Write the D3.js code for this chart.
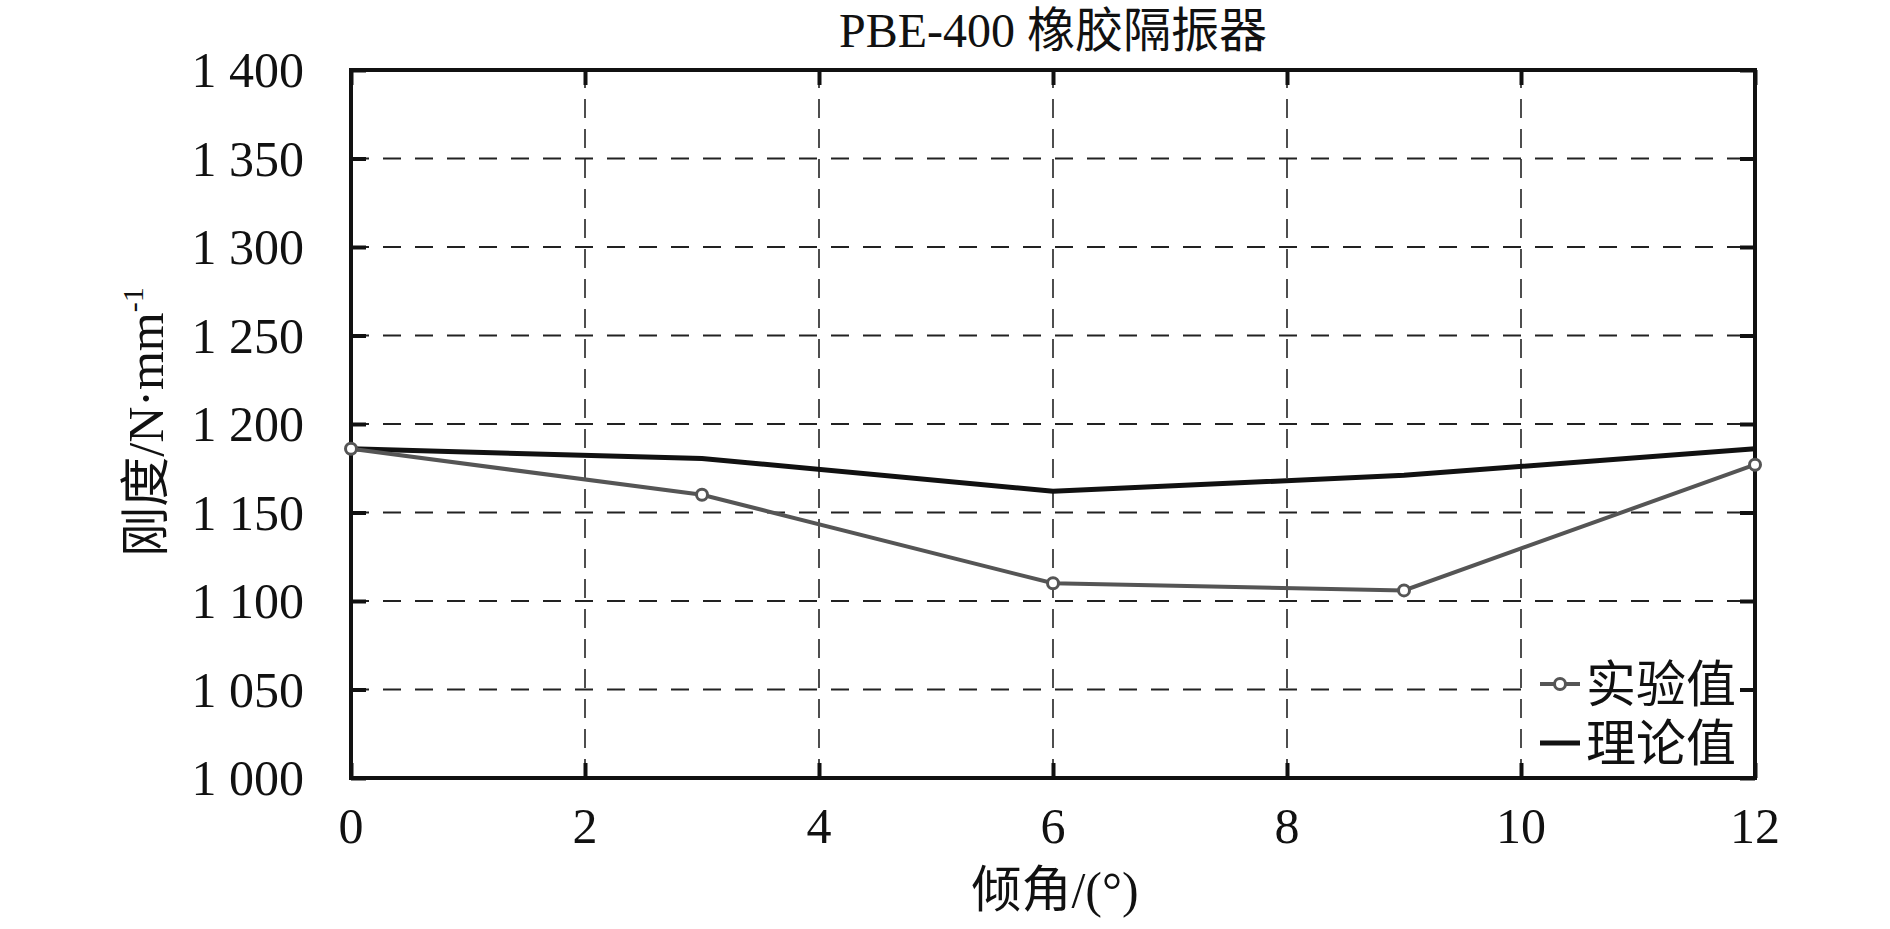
<!DOCTYPE html>
<html lang="zh">
	<head>
		<meta charset="utf-8">
		<title>PBE-400 橡胶隔振器</title>
		<script type="text/javascript" src="https://cdn.jsdelivr.net/npm/d3@7"></script>
		<style type="text/css">
			body { margin: 0; background: #fff; }
			text { font-family: "Liberation Serif", "Noto Sans CJK SC", serif; fill: #111; }
		</style>
	</head>
	<body>
		<script type="text/javascript">

			//Width and height
			var w = 1890;
			var h = 929;
			var margin = {left: 351, right: 135, top: 70, bottom: 151};

			//data
			var angles = [0, 3, 6, 9, 12];
			var experimental = [1186, 1160, 1110, 1106, 1177];
			var theoretical = [1186, 1180.5, 1162, 1171, 1186];
			var xTicks = [0, 2, 4, 6, 8, 10, 12];
			var yTicks = [1000, 1050, 1100, 1150, 1200, 1250, 1300, 1350, 1400];
			var seriesNames = ["实验值", "理论值"];

			var svg = d3.select("body")
						.append("svg")
						.attr("width", w)
						.attr("height", h);

			var x = d3.scaleLinear().domain([0, 12]).range([margin.left, w - margin.right]);
			var y = d3.scaleLinear().domain([1000, 1400]).range([h - margin.bottom, margin.top]);

			//space grouping: "1 400"
			var fmt = d3.formatLocale({decimal: ".", thousands: " ", grouping: [3], currency: ["", ""]}).format(",");

			//grid lines
			svg.append("g").selectAll("line")
				.data(yTicks.slice(1, -1))
				.enter().append("line")
				.attr("x1", x(0)).attr("x2", x(12))
				.attr("y1", function(d) { return y(d); })
				.attr("y2", function(d) { return y(d); })
				.attr("stroke", "#222").attr("stroke-width", 2.2)
				.attr("stroke-dasharray", "18,14");

			svg.append("g").selectAll("line")
				.data(xTicks.slice(1, -1))
				.enter().append("line")
				.attr("y1", y(1000)).attr("y2", y(1400))
				.attr("x1", function(d) { return x(d); })
				.attr("x2", function(d) { return x(d); })
				.attr("stroke", "#222").attr("stroke-width", 1.6)
				.attr("stroke-dasharray", "19,11");

			//legend background hides the grid under it
			svg.append("rect")
				.attr("x", 1530).attr("y", 655)
				.attr("width", x(12) - 1530).attr("height", y(1000) - 655)
				.attr("fill", "#fff");

			//inside tick stubs via axes
			var tickLen = 15;
			svg.append("g").attr("transform", "translate(" + x(0) + ",0)")
				.call(d3.axisRight(y).tickValues(yTicks).tickSize(tickLen).tickFormat(""));
			svg.append("g").attr("transform", "translate(" + x(12) + ",0)")
				.call(d3.axisLeft(y).tickValues(yTicks).tickSize(tickLen).tickFormat(""));
			svg.append("g").attr("transform", "translate(0," + y(1000) + ")")
				.call(d3.axisTop(x).tickValues(xTicks).tickSize(tickLen).tickFormat(""));
			svg.append("g").attr("transform", "translate(0," + y(1400) + ")")
				.call(d3.axisBottom(x).tickValues(xTicks).tickSize(tickLen).tickFormat(""));
			svg.selectAll(".domain").remove();
			svg.selectAll(".tick line").attr("stroke", "#111").attr("stroke-width", 4);

			//frame
			svg.append("rect")
				.attr("x", x(0)).attr("y", y(1400))
				.attr("width", x(12) - x(0)).attr("height", y(1000) - y(1400))
				.attr("fill", "none").attr("stroke", "#111").attr("stroke-width", 4);

			//tick labels
			svg.append("g").selectAll("text")
				.data(yTicks)
				.enter().append("text")
				.text(function(d) { return fmt(d); })
				.attr("x", 304)
				.attr("y", function(d) { return y(d); })
				.attr("dy", "0.34em")
				.attr("text-anchor", "end")
				.attr("font-size", "50px");

			svg.append("g").selectAll("text")
				.data(xTicks)
				.enter().append("text")
				.text(function(d) { return d; })
				.attr("x", function(d) { return x(d); })
				.attr("y", 843)
				.attr("text-anchor", "middle")
				.attr("font-size", "50px");

			//lines
			var line = d3.line()
				.x(function(d) { return x(d[0]); })
				.y(function(d) { return y(d[1]); });

			var theoryData = d3.zip(angles, theoretical);
			var expData = d3.zip(angles, experimental);

			svg.append("path")
				.datum(theoryData)
				.attr("d", line)
				.attr("fill", "none").attr("stroke", "#111").attr("stroke-width", 5);

			svg.append("path")
				.datum(expData)
				.attr("d", line)
				.attr("fill", "none").attr("stroke", "#555").attr("stroke-width", 4);

			svg.append("g").selectAll("circle")
				.data(expData)
				.enter().append("circle")
				.attr("cx", function(d) { return x(d[0]); })
				.attr("cy", function(d) { return y(d[1]); })
				.attr("r", 5.5)
				.attr("fill", "#fff").attr("stroke", "#555").attr("stroke-width", 3);

			//legend
			var lg = svg.append("g");
			lg.append("line").attr("x1", 1540).attr("x2", 1580).attr("y1", 684).attr("y2", 684)
				.attr("stroke", "#555").attr("stroke-width", 4);
			lg.append("circle").attr("cx", 1560).attr("cy", 684).attr("r", 5.5)
				.attr("fill", "#fff").attr("stroke", "#555").attr("stroke-width", 3);
			lg.append("line").attr("x1", 1540).attr("x2", 1580).attr("y1", 743).attr("y2", 743)
				.attr("stroke", "#111").attr("stroke-width", 5);
			lg.selectAll("text")
				.data(seriesNames)
				.enter().append("text")
				.text(function(d) { return d; })
				.attr("x", 1586)
				.attr("y", function(d, i) { return 684 + i * 59; })
				.attr("dy", "0.36em")
				.attr("font-size", "50px");

			//title and axis labels
			svg.append("text")
				.text("PBE-400 橡胶隔振器")
				.attr("x", 1053).attr("y", 47)
				.attr("text-anchor", "middle")
				.attr("font-size", "48px");

			svg.append("text")
				.text("倾角/(°)")
				.attr("x", 1055).attr("y", 907)
				.attr("text-anchor", "middle")
				.attr("font-size", "50px");

			var yl = svg.append("text")
				.attr("transform", "translate(163,422) rotate(-90)")
				.attr("text-anchor", "middle")
				.attr("font-size", "50px");
			yl.append("tspan").text("刚度/N·mm");
			yl.append("tspan").text("-1").attr("font-size", "30px").attr("dy", "-20");

		</script>
	</body>
</html>
